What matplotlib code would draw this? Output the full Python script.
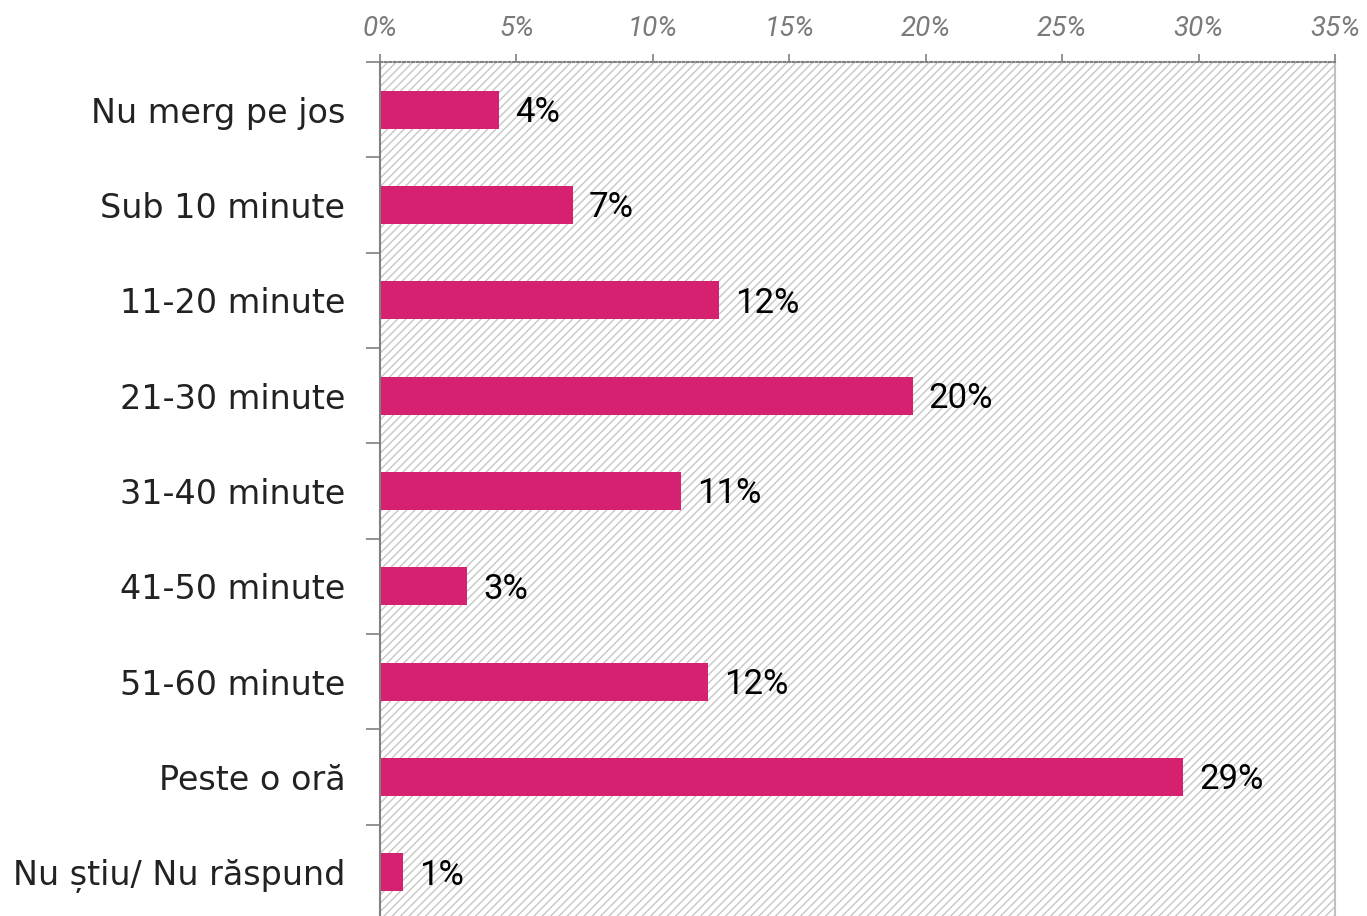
import matplotlib
matplotlib.use("Agg")
import matplotlib.pyplot as plt
from matplotlib.patches import Rectangle
from matplotlib.ticker import FixedLocator, FuncFormatter

categories = ["Nu merg pe jos", "Sub 10 minute", "11-20 minute", "21-30 minute",
              "31-40 minute", "41-50 minute", "51-60 minute", "Peste o oră",
              "Nu știu/ Nu răspund"]
values = [4.36, 7.07, 12.42, 19.52, 11.04, 3.19, 12.02, 29.44, 0.84]
xticks = [0, 5, 10, 15, 20, 25, 30, 35]

BAR = "#D5216F"
plt.rcParams["hatch.linewidth"] = 1.0

fig = plt.figure(figsize=(13.67, 9.16), dpi=100)
fig.patch.set_facecolor("white")
ax = fig.add_axes([0.27798, -0.0044, 0.69861, 0.9367])
ax.set_facecolor("white")

bg = Rectangle((0, 0), 1, 1, transform=ax.transAxes, facecolor="white",
               edgecolor="#c6c6c6", hatch="////", linewidth=0, zorder=0)
ax.add_patch(bg)

y = list(range(len(categories)))
ax.barh(y, values, height=0.4, color=BAR, zorder=2)

for yi, v in zip(y, values):
    ax.annotate(f"{round(v)}%", xy=(v, yi), xytext=(11.5, -2), textcoords="offset points",
                va="center", ha="left", fontsize=25, color="black",
                family=["Roboto", "DejaVu Sans"], zorder=3)

ax.set_xlim(0, 35)
ax.set_ylim(len(categories) - 0.5, -0.5)

ax.xaxis.tick_top()
ax.xaxis.set_major_locator(FixedLocator(xticks))
ax.xaxis.set_major_formatter(FuncFormatter(lambda v, p: f"{int(v)}%"))
ax.tick_params(axis="x", which="major", length=6, width=1.2, color="#808080",
               pad=8.5, labelsize=20, labelcolor="#7a7a7a")
for t in ax.xaxis.get_major_ticks():
    t.tick2line.set_linestyle((0, (1, 1.5)))
for lab in ax.get_xticklabels():
    lab.set_fontstyle("italic")
    lab.set_family(["Roboto", "DejaVu Sans"])

ax.set_yticks(y)
ax.set_yticklabels(categories)
ax.yaxis.set_minor_locator(FixedLocator([i + 0.5 for i in range(-1, len(categories))]))
ax.tick_params(axis="y", which="major", length=0, pad=25, labelsize=24, labelcolor="#222222")
ax.tick_params(axis="y", which="minor", length=10, width=1.2, color="#808080")
for lab in ax.get_yticklabels():
    lab.set_family(["DejaVu Sans"])

ax.spines["top"].set_color("#808080")
ax.spines["top"].set_linestyle((0, (1, 1.2)))
ax.spines["top"].set_linewidth(1.5)
ax.spines["left"].set_color("#808080")
ax.spines["left"].set_linewidth(1.5)
ax.spines["right"].set_color("#c0c0c0")
ax.spines["right"].set_linewidth(1.5)
ax.spines["bottom"].set_visible(False)

fig.savefig("out.png", dpi=100)
